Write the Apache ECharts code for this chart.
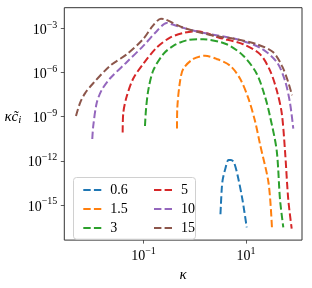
<!DOCTYPE html>
<html><head><meta charset="utf-8">
<script src="https://cdn.jsdelivr.net/npm/echarts@6/dist/echarts.min.js"></script>
<style>html,body{margin:0;padding:0;background:#fff}#c{width:312px;height:288px}</style>
</head><body><div id="c"></div>
<script>
// Values are log10(kappa) and log10(kappa * c_i)
const seriesNames = ['0.6', '1.5', '3', '5', '10', '15'];
const colors = ['#1f77b4', '#ff7f0e', '#2ca02c', '#d62728', '#9467bd', '#8c564b'];

const logK_06 = [0.502, 0.526, 0.545, 0.590, 0.659, 0.707, 0.766, 0.850, 0.936, 1.014];
const logC_06 = [-15.64, -13.97, -13.30, -12.63, -11.95, -11.95, -12.11, -13.21, -14.75, -16.53];

const logK_15 = [-0.346, -0.340, -0.288, -0.223, -0.028, 0.200, 0.428, 0.688, 0.883, 1.045, 1.176, 1.273, 1.441, 1.507];
const logC_15 = [-9.81, -8.41, -6.62, -5.74, -5.07, -4.85, -5.07, -5.52, -6.40, -7.74, -9.29, -10.86, -13.53, -16.58];

const logK_3 = [-0.971, -0.951, -0.906, -0.809, -0.614, -0.419, -0.157, 0.167, 0.623, 0.947, 1.209, 1.371, 1.468, 1.599, 1.664, 1.728];
const logC_3 = [-9.63, -8.52, -7.19, -5.85, -4.74, -4.18, -3.80, -3.73, -4.07, -4.85, -6.07, -7.63, -8.96, -11.30, -14.64, -16.53];

const logK_5 = [-1.406, -1.394, -1.328, -1.199, -1.004, -0.742, -0.483, -0.229, 0.044, 0.478, 0.947, 1.273, 1.468, 1.599, 1.697, 1.761, 1.825, 1.892];
const logC_5 = [-10.08, -8.74, -7.63, -6.40, -5.40, -4.29, -3.62, -3.30, -3.18, -3.62, -4.07, -4.74, -5.85, -7.19, -8.74, -11.30, -14.64, -16.62];

const logK_10 = [-1.999, -1.980, -1.913, -1.816, -1.654, -1.328, -1.004, -0.742, -0.547, -0.483, -0.229, 0.161, 0.824, 1.293, 1.599, 1.761, 1.859, 1.923];
const logC_10 = [-10.52, -9.63, -8.07, -7.19, -6.40, -5.29, -4.18, -3.18, -2.62, -2.67, -2.95, -3.29, -3.73, -4.34, -5.27, -6.54, -8.07, -9.81];

const logK_15b = [-2.317, -2.239, -2.141, -1.985, -1.654, -1.322, -1.010, -0.815, -0.659, -0.580, -0.229, 0.102, 0.434, 0.824, 1.215, 1.527, 1.702, 1.820, 1.898];
const logC_15b = [-8.96, -8.07, -7.41, -6.74, -5.54, -4.74, -3.73, -2.80, -2.33, -2.37, -2.93, -3.27, -3.53, -3.73, -4.07, -4.60, -5.54, -6.60, -7.54];

const xTicks = [-1, 1];
const yTicks = [-15, -12, -9, -6, -3];

const curves = [[logK_06, logC_06], [logK_15, logC_15], [logK_3, logC_3], [logK_5, logC_5], [logK_10, logC_10], [logK_15b, logC_15b]];

const serif = '"Liberation Serif", "Times New Roman", serif';
function powLabel(v) {
  const n = Math.round(v);
  const s = n < 0 ? '\u2212' + (-n) : '' + n;
  return '{b|10}{s|' + s + '}';
}
const richLab = {
  b: { fontFamily: serif, fontSize: 14, color: '#000', lineHeight: 18, verticalAlign: 'bottom' },
  s: { fontFamily: serif, fontSize: 10, color: '#000', lineHeight: 18, verticalAlign: 'bottom', padding: [0, 0, 7, 0] }
};

const series = curves.map((c, i) => ({
  name: seriesNames[i],
  type: 'line',
  data: c[0].map((x, j) => [x, c[1][j]]),
  showSymbol: false,
  symbol: 'none',
  smooth: 0.3,
  lineStyle: { color: colors[i], width: 2, type: [7.4, 3.2] },
  itemStyle: { color: colors[i] },
  z: 2 + i
}));

const legendCommon = {
  orient: 'vertical', top: 178, itemWidth: 18, itemHeight: 14, itemGap: 5,
  itemStyle: { opacity: 0 },
  textStyle: { fontFamily: serif, fontSize: 14, color: '#000', padding: [0, 0, 0, 4] },
  z: 10
};

const chart = echarts.init(document.getElementById('c'), null, { renderer: 'canvas' });
chart.setOption({
  animation: false,
  backgroundColor: '#fff',
  grid: { left: 64.3, right: 10, top: 7.7, bottom: 43.3, show: true, borderColor: '#333', borderWidth: 1, backgroundColor: 'transparent' },
  xAxis: {
    type: 'value', min: -2.545, max: 2.093,
    splitLine: { show: false },
    axisLine: { show: false, onZero: false },
    axisTick: { show: true, length: 3.5, lineStyle: { color: '#333', width: 0.8 }, customValues: xTicks },
    axisLabel: { customValues: xTicks, formatter: powLabel, rich: richLab, margin: 5 },
    name: '\u03ba', nameLocation: 'middle', nameGap: 20,
    nameTextStyle: { fontFamily: serif, fontStyle: 'italic', fontSize: 15, color: '#000' }
  },
  yAxis: {
    type: 'value', min: -17.40, max: -1.58,
    splitLine: { show: false },
    axisLine: { show: false, onZero: false },
    axisTick: { show: true, length: 3.5, lineStyle: { color: '#333', width: 0.8 }, customValues: yTicks },
    axisLabel: { customValues: yTicks, formatter: powLabel, rich: richLab, margin: 7 },
    name: '{a|\u03bac\u0303}{i|i}', nameLocation: 'middle', nameGap: 43, nameRotate: 0,
    nameTextStyle: {
      align: 'right', verticalAlign: 'middle', padding: [0, 0, 14, 0],
      rich: {
        a: { fontFamily: serif, fontStyle: 'italic', fontSize: 15, color: '#000' },
        i: { fontFamily: serif, fontStyle: 'italic', fontSize: 11, color: '#000', padding: [6, 0, 0, 0] }
      }
    }
  },
  legend: [
    Object.assign({}, legendCommon, { left: 77.3, data: seriesNames.slice(0, 3) }),
    Object.assign({}, legendCommon, { left: 148, data: seriesNames.slice(3) })
  ],
  graphic: [{
    type: 'rect', z: 5, left: 73, top: 177,
    shape: { width: 122, height: 61.7, r: 3 },
    style: { fill: 'rgba(255,255,255,0.8)', stroke: '#d0d0d0', lineWidth: 1 }
  }],
  series: series
});
</script>
</body></html>
